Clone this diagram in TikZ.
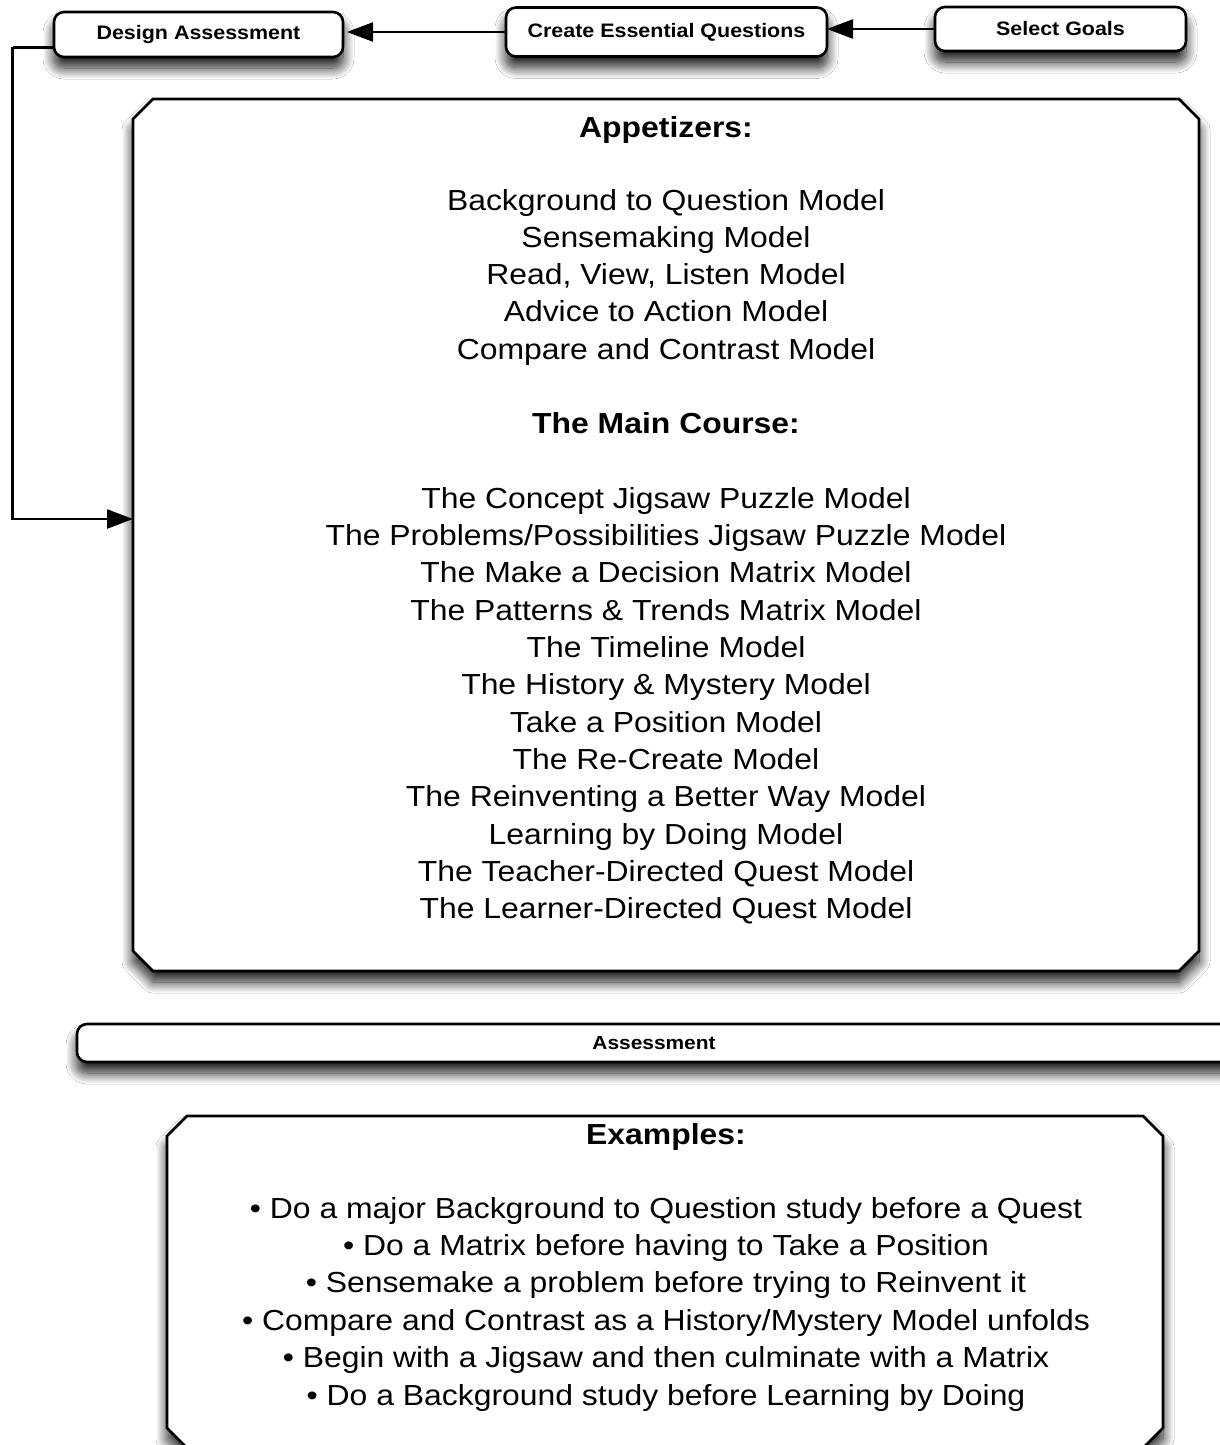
\documentclass[tikz,border=0pt]{standalone}
\usepackage{fontspec}
\setmainfont{Liberation Sans}[FakeStretch=1.1]
\usetikzlibrary{arrows.meta,shadows.blur}

\begin{document}
\begin{tikzpicture}[x=1pt,y=-1pt,
  every node/.style={inner sep=0pt, outer sep=0pt},
  soft/.style={blur shadow={shadow xshift=0pt, shadow yshift=-11pt,
      shadow blur radius=11pt, shadow blur steps=20, shadow opacity=90}},
  outline/.style={draw=black, line width=2.6pt, fill=white, soft},
  stepbox/.style={outline, rounded corners=10pt,
      font=\bfseries\fontsize{19.5}{22}\selectfont},
  conn/.style={line width=2.5pt, draw=black,
      -{Triangle[length=26pt,width=19pt,fill=black]}},
  heading/.style={anchor=base, font=\bfseries\fontsize{29}{34}\selectfont},
  entry/.style={anchor=base, font=\fontsize{29}{34}\selectfont}
]
\useasboundingbox (0,0) rectangle (1220,1445);
\fill[white] (0,0) rectangle (1220,1445);

% step boxes along the top
\node[stepbox, minimum width=289pt, minimum height=45pt] (design) at (198.5,34.5) {Design Assessment};
\node[stepbox, minimum width=321pt, minimum height=49pt] (create) at (666.5,32) {Create Essential Questions};
\node[stepbox, minimum width=251pt, minimum height=44pt] (goals)  at (1060.5,29) {Select Goals};

% menu panel (octagon with chamfered corners)
\node[minimum width=1066pt, minimum height=872pt] (menu) at (666,535) {};
\draw[outline]
  ([xshift=20pt]menu.north west) -- ([xshift=-20pt]menu.north east)
  -- ([yshift=-20pt]menu.north east) -- ([yshift=20pt]menu.south east)
  -- ([xshift=-20pt]menu.south east) -- ([xshift=20pt]menu.south west)
  -- ([yshift=20pt]menu.south west) -- ([yshift=-20pt]menu.north west) -- cycle;

% assessment bar
\node[outline, rounded corners=10pt, minimum width=1154pt, minimum height=38pt,
      font=\bfseries\fontsize{19}{22}\selectfont] (assess) at (654,1043) {Assessment};

% examples panel
\node[minimum width=996pt, minimum height=332pt] (examples) at (665,1282) {};
\draw[outline]
  ([xshift=20pt]examples.north west) -- ([xshift=-20pt]examples.north east)
  -- ([yshift=-20pt]examples.north east) -- ([yshift=20pt]examples.south east)
  -- ([xshift=-20pt]examples.south east) -- ([xshift=20pt]examples.south west)
  -- ([yshift=20pt]examples.south west) -- ([yshift=-20pt]examples.north west) -- cycle;

% menu text
\node[heading] (apphead) at (666,137) {Appetizers:};
\foreach \t [count=\i] in {Background to Question Model, Sensemaking Model,
    {Read, View, Listen Model}, Advice to Action Model, Compare and Contrast Model}
  \node[entry] (app\i) at (666,{210+37.3*(\i-1)}) {\t};
\node[heading] (mainhead) at (666,433) {The Main Course:};
\foreach \t [count=\i] in {The Concept Jigsaw Puzzle Model,
    The Problems/Possibilities Jigsaw Puzzle Model,
    The Make a Decision Matrix Model, The Patterns \& Trends Matrix Model,
    The Timeline Model, The History \& Mystery Model, Take a Position Model,
    The Re-Create Model, The Reinventing a Better Way Model,
    Learning by Doing Model, The Teacher-Directed Quest Model,
    The Learner-Directed Quest Model}
  \node[entry] (main\i) at (666,{508+37.36*(\i-1)}) {\t};

% examples text
\node[heading] (exhead) at (666,1144) {Examples:};
\foreach \t [count=\i] in {• Do a major Background to Question study before a Quest,
    • Do a Matrix before having to Take a Position,
    • Sensemake a problem before trying to Reinvent it,
    • Compare and Contrast as a History/Mystery Model unfolds,
    • Begin with a Jigsaw and then culminate with a Matrix,
    • Do a Background study before Learning by Doing}
  \node[entry] (ex\i) at (666,{1218+37.4*(\i-1)}) {\t};

% connectors
\coordinate (bend) at (12.5,47.5);
\draw[conn] (goals.west) -- (goals.west -| create.east);
\draw[conn, shorten >=4pt] (create.west) -- (create.west -| design.east);
\draw[line width=2.5pt] ([yshift=-13pt]design.west) -- (bend);
\draw[conn] (bend) |- ([yshift=16pt]menu.west);
\end{tikzpicture}
\end{document}
